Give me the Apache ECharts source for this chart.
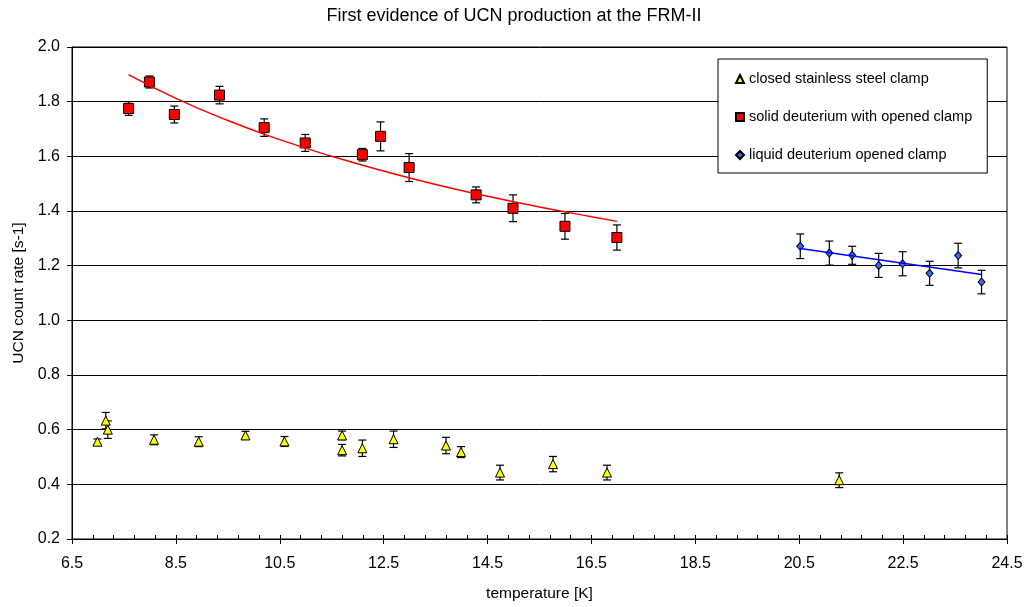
<!DOCTYPE html>
<html>
<head>
<meta charset="utf-8">
<script src="https://cdn.jsdelivr.net/npm/echarts@6/dist/echarts.min.js"></script>
<style>
html, body { margin: 0; padding: 0; background: #fff; }
#chart { width: 1028px; height: 607px; }
</style>
</head>
<body>
<div id="chart"></div>
<script>
// temperature axis starts at 6.5 K, data are shifted so ticks land on 6.5, 8.5, ...
var X0 = 6.5;

// closed stainless steel clamp
var steelTemp = [6.99, 7.15, 7.19, 8.08, 8.94, 9.84, 10.59, 11.70, 11.70, 12.09, 12.69, 13.70, 13.99, 14.74, 15.76, 16.80, 21.27];
var steelRate = [0.556, 0.633, 0.600, 0.563, 0.556, 0.579, 0.557, 0.579, 0.525, 0.532, 0.565, 0.542, 0.518, 0.443, 0.474, 0.443, 0.415];
var steelErr  = [0.010, 0.030, 0.032, 0.018, 0.018, 0.015, 0.018, 0.016, 0.021, 0.030, 0.030, 0.030, 0.020, 0.027, 0.028, 0.027, 0.027];

// solid deuterium with opened clamp
var solidTemp = [7.59, 7.99, 8.47, 9.34, 10.20, 10.99, 12.09, 12.44, 12.99, 14.28, 14.99, 15.99, 16.99];
var solidRate = [1.775, 1.872, 1.753, 1.824, 1.705, 1.649, 1.606, 1.673, 1.559, 1.459, 1.410, 1.344, 1.303];
var solidErr  = [0.025, 0.022, 0.031, 0.032, 0.032, 0.031, 0.023, 0.053, 0.051, 0.029, 0.049, 0.047, 0.046];

// liquid deuterium opened clamp
var liquidTemp = [20.52, 21.08, 21.52, 22.03, 22.49, 23.01, 23.56, 24.01];
var liquidRate = [1.271, 1.246, 1.238, 1.201, 1.207, 1.172, 1.237, 1.140];
var liquidErr  = [0.045, 0.044, 0.033, 0.044, 0.044, 0.044, 0.045, 0.043];

// trend lines
var solidFitTemp = [7.59, 8.5, 9.5, 10.5, 11.5, 12.5, 13.5, 14.5, 15.5, 16.5, 16.99];
var solidFitRate = [1.899, 1.812, 1.731, 1.661, 1.600, 1.546, 1.497, 1.454, 1.415, 1.379, 1.362];
var liquidFitTemp = [20.52, 24.01];
var liquidFitRate = [1.263, 1.168];

var names = ['closed stainless steel clamp', 'solid deuterium with opened clamp', 'liquid deuterium opened clamp'];

function pts(xs, ys) {
	return xs.map(function(t, i) { return [t - X0, ys[i]]; });
}
function bars(xs, ys, es) {
	return xs.map(function(t, i) { return [t - X0, ys[i] - es[i], ys[i] + es[i]]; });
}

function renderErr(params, api) {
	var x = api.value(0);
	var lo = api.coord([x, api.value(1)]);
	var hi = api.coord([x, api.value(2)]);
	var w = 4;
	function seg(x1, y1, x2, y2) {
		return { type: 'line', shape: { x1: x1, y1: y1, x2: x2, y2: y2 }, style: { stroke: '#000', lineWidth: 1.2 } };
	}
	return { type: 'group', children: [
		seg(lo[0], lo[1], hi[0], hi[1]),
		seg(hi[0] - w, hi[1], hi[0] + w, hi[1]),
		seg(lo[0] - w, lo[1], lo[0] + w, lo[1])
	] };
}

function errSeries(name, xs, ys, es) {
	return {
		name: name,
		type: 'custom',
		renderItem: renderErr,
		encode: { x: 0, y: [1, 2] },
		data: bars(xs, ys, es),
		z: 2,
		silent: true
	};
}

var FONT = 'Liberation Sans, Arial, sans-serif';

var myChart = echarts.init(document.getElementById('chart'));
var option = {
	animation: false,
	textStyle: { fontFamily: FONT },
	title: {
		text: 'First evidence of UCN production at the FRM-II',
		left: 'center',
		top: 2,
		textStyle: { fontFamily: FONT, fontSize: 18, fontWeight: 'normal', color: '#000' }
	},
	legend: {
		data: [
			{ name: names[0], icon: 'triangle' },
			{ name: names[1], icon: 'rect' },
			{ name: names[2], icon: 'diamond' }
		],
		orient: 'vertical',
		left: 718,
		top: 59,
		itemWidth: 8,
		itemHeight: 8,
		itemGap: 22,
		padding: [12, 15, 10, 17],
		borderColor: '#000',
		borderWidth: 1,
		backgroundColor: '#fff',
		textStyle: { fontFamily: FONT, fontSize: 14.5, color: '#000', lineHeight: 16 }
	},
	grid: {
		left: 72,
		right: 21,
		top: 47,
		bottom: 68,
		show: true,
		borderColor: '#000',
		borderWidth: 1
	},
	xAxis: [{
		type: 'value',
		min: 0,
		max: 18,
		interval: 2,
		name: 'temperature [K]',
		nameLocation: 'middle',
		nameGap: 47,
		nameTextStyle: { fontFamily: FONT, fontSize: 15.5, color: '#000' },
		axisLine: { show: true, lineStyle: { color: '#000', width: 1 } },
		axisTick: { show: true, inside: true, length: 4, lineStyle: { color: '#000' } },
		minorTick: { show: true, splitNumber: 5, length: 4, lineStyle: { color: '#000' } },
		axisLabel: {
			margin: 17,
			fontFamily: FONT,
			fontSize: 16,
			color: '#000',
			formatter: function(v) { return (v + X0).toFixed(1); }
		},
		splitLine: { show: false }
	}, {
		type: 'value',
		min: 0,
		max: 18,
		interval: 2,
		position: 'bottom',
		axisLine: { show: false },
		axisTick: { show: true, inside: false, length: 5, lineStyle: { color: '#000' } },
		axisLabel: { show: false },
		splitLine: { show: false }
	}],
	yAxis: {
		type: 'value',
		min: 0.2,
		max: 2.0,
		interval: 0.2,
		name: 'UCN count rate [s-1]',
		nameLocation: 'middle',
		nameGap: 45,
		nameTextStyle: { fontFamily: FONT, fontSize: 15.5, color: '#000' },
		axisLine: { show: true, lineStyle: { color: '#000', width: 1 } },
		axisTick: { show: true, inside: false, length: 5, lineStyle: { color: '#000' } },
		axisLabel: {
			margin: 12,
			fontFamily: FONT,
			fontSize: 16,
			color: '#000',
			formatter: function(v) { return v.toFixed(1); }
		},
		splitLine: { show: true, lineStyle: { color: '#000', width: 1 } }
	},
	series: [
		errSeries('err steel', steelTemp, steelRate, steelErr),
		errSeries('err solid', solidTemp, solidRate, solidErr),
		errSeries('err liquid', liquidTemp, liquidRate, liquidErr),
		{
			name: names[0],
			type: 'scatter',
			symbol: 'triangle',
			symbolSize: 9,
			itemStyle: { color: '#ffff00', borderColor: '#000', borderWidth: 1, opacity: 1 },
			data: pts(steelTemp, steelRate),
			z: 3
		},
		{
			name: names[1],
			type: 'scatter',
			symbol: 'rect',
			symbolSize: 10,
			itemStyle: { color: '#ff0000', borderColor: '#000', borderWidth: 1, opacity: 1 },
			data: pts(solidTemp, solidRate),
			z: 3
		},
		{
			name: names[2],
			type: 'scatter',
			symbol: 'diamond',
			symbolSize: [7, 8],
			itemStyle: { color: '#3366ff', borderColor: '#000', borderWidth: 1, opacity: 1 },
			data: pts(liquidTemp, liquidRate),
			z: 3
		},
		{
			name: 'fit solid',
			type: 'line',
			smooth: true,
			showSymbol: false,
			symbol: 'none',
			lineStyle: { color: '#ff0000', width: 1.5 },
			data: pts(solidFitTemp, solidFitRate),
			z: 4,
			silent: true
		},
		{
			name: 'fit liquid',
			type: 'line',
			showSymbol: false,
			symbol: 'none',
			lineStyle: { color: '#0000ff', width: 1.5 },
			data: pts(liquidFitTemp, liquidFitRate),
			z: 4,
			silent: true
		}
	]
};
myChart.setOption(option);
</script>
</body>
</html>
